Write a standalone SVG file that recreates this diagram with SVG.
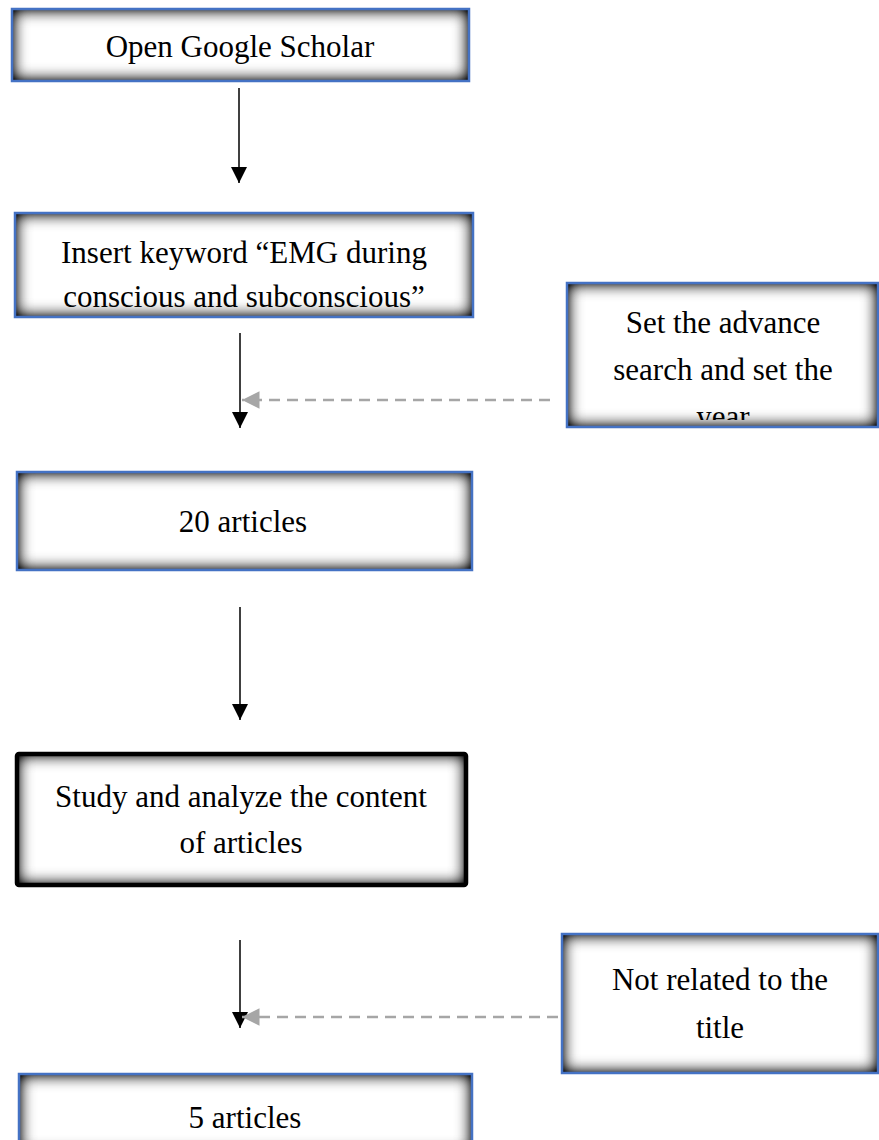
<svg xmlns="http://www.w3.org/2000/svg" width="879" height="1140" viewBox="0 0 879 1140">
<style>
.t{font-family:"Liberation Serif","Times New Roman",serif;font-size:31px;fill:#000;text-anchor:middle}
.fill{fill:#fff;filter:url(#inset)}
.bb{fill:none;stroke:#4472C4;stroke-width:2.5}
.kb{fill:none;stroke:#000;stroke-width:4.5}
.ar{stroke:#000;stroke-width:1.5;fill:none;marker-end:url(#ah)}
.da{stroke:#A6A6A6;stroke-width:2.5;stroke-dasharray:11 7;fill:none;marker-end:url(#gh)}
</style>
<defs>
<filter id="inset" x="-10%" y="-30%" width="120%" height="160%" color-interpolation-filters="sRGB">
<feFlood flood-color="#000" flood-opacity="1" result="f"/>
<feComposite in="f" in2="SourceAlpha" operator="out" result="o"/>
<feGaussianBlur in="o" stdDeviation="8" result="b"/>
<feComponentTransfer in="b" result="b2"><feFuncA type="linear" slope="1.4"/></feComponentTransfer>
<feComposite in="b2" in2="SourceAlpha" operator="in" result="s"/>
<feMerge><feMergeNode in="SourceGraphic"/><feMergeNode in="s"/></feMerge>
</filter>
<marker id="ah" viewBox="0 0 10 10" refX="10" refY="5" markerWidth="16" markerHeight="16" markerUnits="userSpaceOnUse" orient="auto">
<path d="M0,0 L10,5 L0,10 z" fill="#000"/>
</marker>
<marker id="gh" viewBox="0 0 10 10" refX="10" refY="5" markerWidth="7" markerHeight="7" markerUnits="strokeWidth" orient="auto">
<path d="M0,0 L10,5 L0,10 z" fill="#A6A6A6"/>
</marker>
<clipPath id="c3"><rect x="567" y="283" width="312" height="137"/></clipPath>
</defs>
<g id="connectors">
<line class="ar" x1="239" y1="88" x2="239" y2="183"/>
<line class="ar" x1="240" y1="333" x2="240" y2="428"/>
<line class="da" x1="550" y1="400" x2="242" y2="400"/>
<line class="ar" x1="240" y1="607" x2="240" y2="720"/>
<line class="ar" x1="240" y1="940" x2="240" y2="1028"/>
<line class="da" x1="558" y1="1017" x2="242" y2="1017"/>
</g>
<g id="n1">
<rect class="fill" x="12" y="9" width="457" height="72"/>
<rect class="bb" x="12" y="9" width="457" height="72"/>
<text class="t" x="240" y="57">Open Google Scholar</text>
</g>
<g id="n2">
<rect class="fill" x="15" y="213" width="458" height="104"/>
<rect class="bb" x="15" y="213" width="458" height="104"/>
<text class="t" x="244" y="263">Insert keyword “EMG during</text>
<text class="t" x="244" y="307">conscious and subconscious”</text>
</g>
<g id="n3">
<rect class="fill" x="567" y="283" width="311" height="144"/>
<rect class="bb" x="567" y="283" width="311" height="144"/>
<g clip-path="url(#c3)">
<text class="t" x="723" y="333">Set the advance</text>
<text class="t" x="723" y="380">search and set the</text>
<text class="t" x="723" y="427">year</text>
</g>
</g>
<g id="n4">
<rect class="fill" x="17" y="472" width="455" height="98"/>
<rect class="bb" x="17" y="472" width="455" height="98"/>
<text class="t" x="243" y="532">20 articles</text>
</g>
<g id="n5">
<rect class="fill" x="17" y="754" width="449" height="131" rx="2"/>
<rect class="kb" x="17" y="754" width="449" height="131" rx="2"/>
<text class="t" x="241" y="807">Study and analyze the content</text>
<text class="t" x="241" y="853">of articles</text>
</g>
<g id="n6">
<rect class="fill" x="562" y="934" width="316" height="139"/>
<rect class="bb" x="562" y="934" width="316" height="139"/>
<text class="t" x="720" y="990">Not related to the</text>
<text class="t" x="720" y="1038">title</text>
</g>
<g id="n7">
<rect class="fill" x="19" y="1074" width="453" height="80"/>
<rect class="bb" x="19" y="1074" width="453" height="80"/>
<text class="t" x="245" y="1128">5 articles</text>
</g>
</svg>
